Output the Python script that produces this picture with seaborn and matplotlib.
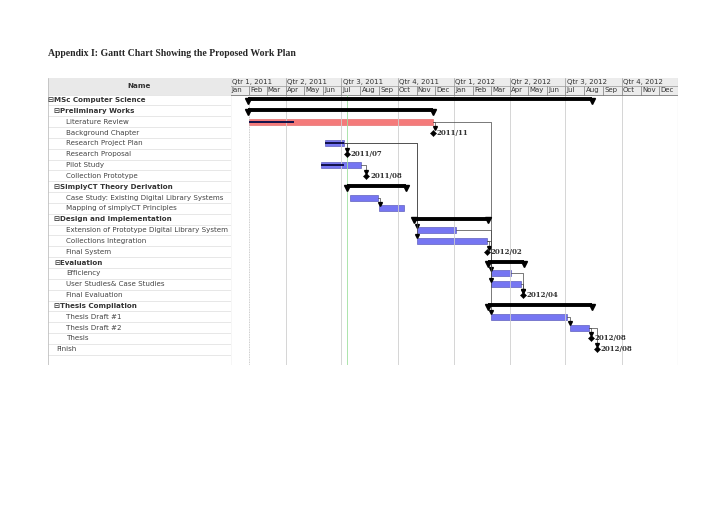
import matplotlib
matplotlib.use("Agg")
import matplotlib.pyplot as plt
import matplotlib.dates as mdates
import pandas as pd
import seaborn as sns

title = "Appendix I: Gantt Chart Showing the Proposed Work Plan"

names = ["MSc Computer Science", "Preliminary Works", "Literature Review",
         "Background Chapter", "Research Project Plan", "Research Proposal",
         "Pilot Study", "Collection Prototype", "SimplyCT Theory Derivation",
         "Case Study: Existing Digital Library Systems",
         "Mapping of simplyCT Principles", "Design and Implementation",
         "Extension of Prototype Digital Library System",
         "Collections Integration", "Final System", "Evaluation", "Efficiency",
         "User Studies& Case Studies", "Final Evaluation", "Thesis Compilation",
         "Thesis Draft #1", "Thesis Draft #2", "Thesis", "Finish"]
levels = [0, 1, 2, 2, 2, 2, 2, 2, 1, 2, 2, 1, 2, 2, 2, 1, 2, 2, 2, 1, 2, 2, 2, 1]
kinds = ["group", "group", "task", "milestone", "task", "milestone", "task",
         "milestone", "group", "task", "task", "group", "task", "task",
         "milestone", "group", "task", "task", "milestone", "group", "task",
         "task", "milestone", "milestone"]
starts = ["2011-01-30", "2011-01-30", "2011-02-01", "2011-11-28", "2011-06-05",
          "2011-07-10", "2011-05-29", "2011-08-11", "2011-07-11", "2011-07-16",
          "2011-09-01", "2011-10-27", "2011-11-01", "2011-11-01", "2012-02-24",
          "2012-02-26", "2012-03-01", "2012-03-01", "2012-04-22", "2012-02-26",
          "2012-03-01", "2012-07-09", "2012-08-12", "2012-08-22"]
ends = ["2012-08-13", "2011-11-28", "2011-11-28", "2011-11-28", "2011-07-06",
        "2011-07-10", "2011-08-02", "2011-08-11", "2011-10-14", "2011-08-30",
        "2011-10-11", "2012-02-26", "2012-01-05", "2012-02-24", "2012-02-24",
        "2012-04-25", "2012-04-03", "2012-04-19", "2012-04-22", "2012-08-14",
        "2012-07-03", "2012-08-09", "2012-08-12", "2012-08-22"]
progress = [0, 0, 0.24, 0, 1.0, 0, 0.58, 0, 0, 0, 0, 0, 0, 0, 0, 0, 0, 0, 0,
            0, 0, 0, 0, 0]
deps = [("Literature Review", "Background Chapter"),
        ("Literature Review", "Thesis Draft #1"),
        ("Research Project Plan", "Research Proposal"),
        ("Research Project Plan", "Extension of Prototype Digital Library System"),
        ("Research Project Plan", "Collections Integration"),
        ("Pilot Study", "Collection Prototype"),
        ("Case Study: Existing Digital Library Systems", "Mapping of simplyCT Principles"),
        ("Extension of Prototype Digital Library System", "Efficiency"),
        ("Collections Integration", "Final System"),
        ("Collections Integration", "User Studies& Case Studies"),
        ("Efficiency", "Final Evaluation"),
        ("User Studies& Case Studies", "Final Evaluation"),
        ("Thesis Draft #1", "Thesis Draft #2"),
        ("Thesis Draft #2", "Thesis"),
        ("Thesis Draft #2", "Finish")]
months = ["Jan", "Feb", "Mar", "Apr", "May", "Jun", "Jul", "Aug", "Sep",
          "Oct", "Nov", "Dec"]
years = [2011, 2012]
project_start = "2011-02-01"
today = "2011-07-11"

task_colors = {"Literature Review": "#f47a7a"}
default_color = "#7676f2"

df = pd.DataFrame({"name": names, "level": levels, "kind": kinds,
                   "start": pd.to_datetime(starts), "end": pd.to_datetime(ends),
                   "progress": progress})
df["row"] = range(len(df))
df["s"] = mdates.date2num(df["start"])
df["e"] = mdates.date2num(df["end"])
idx = {n: i for i, n in enumerate(names)}

sns.set_style("white")
plt.rcParams["font.family"] = ["DejaVu Sans"]

W, H = 728, 515
fig = plt.figure(figsize=(W / 100, H / 100), dpi=100)


def box(x0, y0, x1, y1):
    return [x0 / W, 1 - y1 / H, (x1 - x0) / W, (y1 - y0) / H]


top_row, bottom_row = -2.03, 24.45
qtr_bot, head_bot = -1.29, -0.5

ax_t = fig.add_axes(box(48, 78, 230.5, 365))
ax = fig.add_axes(box(230.5, 78, 678, 365))
for a in (ax_t, ax):
    a.set_ylim(bottom_row, top_row)
    a.axis("off")
ax_t.set_xlim(48, 230.5)

fig.text(48 / W, 1 - 53 / H, title, fontsize=7, family="Liberation Serif",
         weight="bold", va="center")

# ---- name table
ax_t.fill_between([48, 230.5], top_row, head_bot, color="#e9e9e9", lw=0)
ax_t.text(139, (top_row + head_bot) / 2, "Name", ha="center", va="center",
          fontsize=5.2, weight="bold", color="#333333")
for i in range(-1, len(names)):
    ax_t.plot([48, 230.5], [i + 0.5, i + 0.5], color="#dddddd", lw=0.5)
ax_t.plot([48, 48], [top_row, bottom_row], color="#c0c0c0", lw=0.6)
ax_t.plot([48, 230.5], [bottom_row, bottom_row], color="#c0c0c0", lw=0.6)
for r in df.itertuples():
    if r.kind == "group":
        ax_t.text(48.5 + 5.5 * r.level, r.row, "\u229f" + r.name, va="center",
                  fontsize=5.1, weight="bold", color="#333333")
    else:
        ax_t.text(46.5 + 10 * r.level, r.row, r.name, va="center",
                  fontsize=5.1, color="#444444")

# ---- timeline header
x_lo = mdates.date2num(pd.Timestamp("2011-01-01"))
x_hi = mdates.date2num(pd.Timestamp("2013-01-01"))
ax.set_xlim(x_lo, x_hi)
ax.fill_between([x_lo, x_hi], top_row, head_bot, color="#ececec", lw=0)
for y in years:
    for m in range(12):
        xm = mdates.date2num(pd.Timestamp(year=y, month=m + 1, day=1))
        ax.plot([xm, xm], [qtr_bot, head_bot], color="#777777", lw=0.5)
        ax.text(xm + 2, (qtr_bot + head_bot) / 2, months[m], va="center",
                fontsize=5, color="#333333")
        if m % 3 == 0:
            ax.plot([xm, xm], [top_row, qtr_bot], color="#999999", lw=0.5)
            ax.text(xm + 2, (top_row + qtr_bot) / 2,
                    "Qtr %d, %d" % (m // 3 + 1, y), va="center",
                    fontsize=5, color="#333333")
            ax.plot([xm, xm], [head_bot, bottom_row], color="#cfcfcf", lw=0.6)
ax.plot([x_lo, x_hi], [qtr_bot, qtr_bot], color="#999999", lw=0.5)
ax.plot([x_lo, x_hi], [head_bot, head_bot], color="#777777", lw=0.6)
ax.plot([x_lo, x_lo], [top_row, bottom_row], color="#666666", lw=0.8)
ax.plot([x_hi, x_hi], [top_row, bottom_row], color="#bbbbbb", lw=0.8)

ps = mdates.date2num(pd.Timestamp(project_start))
ax.plot([ps, ps], [head_bot, bottom_row], color="#bbbbbb", lw=0.6, ls=(0, (1, 1)))
td = mdates.date2num(pd.Timestamp(today))
ax.plot([td, td], [head_bot, bottom_row], color="#9fe09f", lw=0.6)

# ---- dependencies
for p, s in deps:
    rp, rs = df.iloc[idx[p]], df.iloc[idx[s]]
    x0, y0 = rp.e, rp.row
    xt = max(rs.s, x0 + 3)
    y1 = rs.row - (0.38 if rs.kind == "milestone" else 0.42)
    ax.plot([x0, xt, xt], [y0, y0, y1], color="#444444", lw=0.5)
    ax.plot([xt], [y1], marker="v", ms=2.8, color="black", lw=0)

# ---- bars
bh = 0.56
for r in df.itertuples():
    if r.kind == "task":
        c = task_colors.get(r.name, default_color)
        ax.barh(r.row, r.e - r.s, left=r.s, height=bh, color=c,
                edgecolor="#4a4ab0" if c == default_color else "#e06060", lw=0.4)
        if r.progress > 0:
            ax.plot([r.s, r.s + (r.e - r.s) * r.progress], [r.row, r.row],
                    color="#10104a", lw=1.4, solid_capstyle="butt")
    elif r.kind == "group":
        ax.plot([r.s, r.e], [r.row - 0.05, r.row - 0.05], color="black", lw=2.8,
                solid_capstyle="butt")
        ax.plot([r.s, r.e], [r.row + 0.1, r.row + 0.1], marker="v", ms=3.8,
                color="black", lw=0)

ms = df[df["kind"] == "milestone"]
sns.scatterplot(x=ms["s"], y=ms["row"], marker="D", s=10, color="black",
                edgecolor="black", linewidth=0.3, ax=ax, legend=False, zorder=5)
for r in ms.itertuples():
    ax.text(r.s + 6, r.row, r.start.strftime("%Y/%m"), va="center",
            fontsize=5, family="DejaVu Serif", weight="bold", color="#333333")
ax.set_ylim(bottom_row, top_row)
ax.set_xlim(x_lo, x_hi)
ax.axis("off")

fig.savefig("out.png", dpi=100, facecolor="white")
